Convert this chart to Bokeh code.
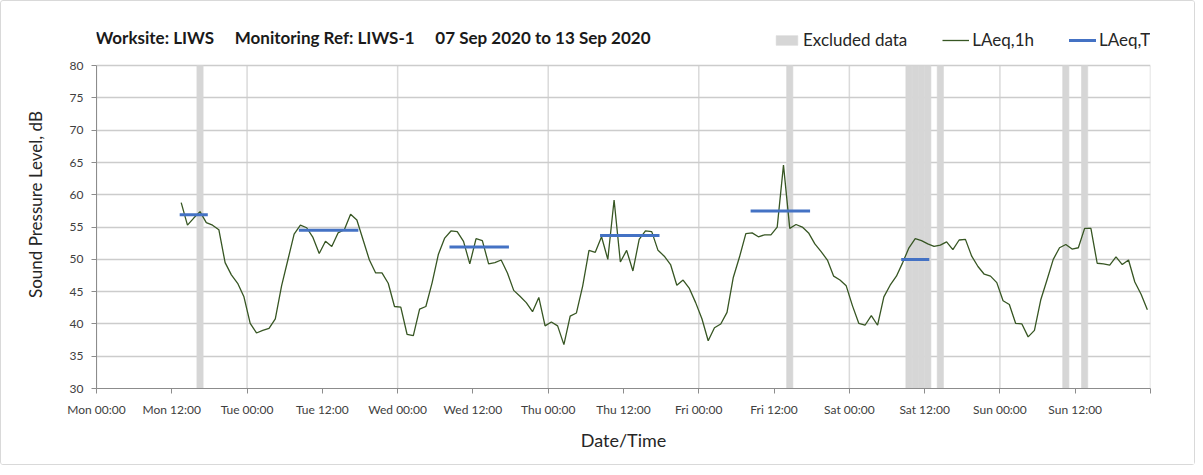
import numpy as np
from bokeh.plotting import figure
from bokeh.models import FixedTicker, Legend, LegendItem, Range1d, Label
from bokeh.embed import file_html
from bokeh.resources import INLINE

# ---------------- data ----------------
days = ["Mon", "Tue", "Wed", "Thu", "Fri", "Sat", "Sun"]
tick_labels = ["Mon 00:00", "Mon 12:00", "Tue 00:00", "Tue 12:00", "Wed 00:00", "Wed 12:00",
               "Thu 00:00", "Thu 12:00", "Fri 00:00", "Fri 12:00", "Sat 00:00", "Sat 12:00",
               "Sun 00:00", "Sun 12:00", ""]

first_hour = 13  # Mon 13:00 is the first hourly value
laeq_1h_mon = [58.8, 55.3, 56.4, 57.4, 55.7, 55.3, 54.6, 49.5, 47.6, 46.3, 44.2]
laeq_1h_tue = [40.1, 38.6, 39.0, 39.3, 40.8, 45.9, 49.9, 53.9, 55.3, 54.9, 53.4, 50.9,
               52.8, 52.0, 54.1, 54.6, 57.0, 56.1, 53.0, 49.9, 47.9, 47.9, 46.3, 42.7]
laeq_1h_wed = [42.6, 38.4, 38.2, 42.3, 42.7, 46.4, 50.8, 53.3, 54.4, 54.3, 52.8, 49.3,
               53.2, 52.9, 49.3, 49.5, 49.9, 47.9, 45.2, 44.3, 43.3, 41.9, 44.1, 39.7]
laeq_1h_thu = [40.3, 39.7, 36.8, 41.2, 41.7, 45.9, 51.4, 51.1, 53.5, 50.0, 59.2, 49.6,
               51.4, 48.2, 53.1, 54.4, 54.3, 51.4, 50.5, 49.2, 46.0, 46.8, 45.5, 43.3]
laeq_1h_fri = [40.8, 37.4, 39.4, 40.0, 41.8, 47.2, 50.4, 54.0, 54.1, 53.5, 53.8, 53.8,
               55.0, 64.6, 54.8, 55.4, 55.0, 54.1, 52.4, 51.2, 49.9, 47.4, 46.8, 45.9]
laeq_1h_sat = [42.8, 40.1, 39.8, 41.3, 39.8, 44.2, 46.0, 47.4, 49.5, 51.8, 53.2, 52.9,
               52.4, 52.0, 52.2, 52.7, 51.5, 53.0, 53.1, 50.5, 48.9, 47.7, 47.4, 46.4]
laeq_1h_sun = [43.6, 43.0, 40.1, 40.0, 38.0, 39.0, 43.7, 46.8, 50.0, 51.8, 52.3, 51.6,
               51.8, 54.8, 54.8, 49.4, 49.3, 49.1, 50.4, 49.2, 49.9, 46.5, 44.6, 42.2]

# excluded hours: (day index, hour)
excluded = [(0, 16), (4, 14), (5, 9), (5, 10), (5, 11), (5, 12), (5, 14), (6, 10), (6, 13)]

# LAeq,T periods: day index, first hour, last hour, level
laeqT_day = [0, 1, 2, 3, 4, 5]
laeqT_start = [13, 8, 8, 8, 8, 8]
laeqT_end = [17, 17, 17, 17, 17, 12]
laeqT_level = [56.9, 54.5, 51.9, 53.7, 57.5, 50.0]

title_parts = ["Worksite: LIWS", "Monitoring Ref: LIWS-1", "07 Sep 2020 to 13 Sep 2020"]

Y_MIN, Y_MAX = 30, 80
X_MAX = 168

# ---------------- build ----------------
FONT = "Lato"
vals = (laeq_1h_mon + laeq_1h_tue + laeq_1h_wed + laeq_1h_thu +
        laeq_1h_fri + laeq_1h_sat + laeq_1h_sun)
hours = first_hour + np.arange(len(vals)) + 0.5

# frame extends above 80 dB to hold the header (title + legend)
p = figure(width=1195, height=465, output_backend="svg", toolbar_location=None,
           x_range=Range1d(0, X_MAX), y_range=Range1d(Y_MIN, 87),
           min_border_left=95, min_border_right=46, min_border_top=19, min_border_bottom=78)

# vertical day grid lines (only over the axis span)
day_lines = list(range(0, X_MAX + 1, 24))
p.segment(x0=day_lines, x1=day_lines, y0=Y_MIN, y1=Y_MAX, line_color="#dadada",
          line_width=1.5, level="underlay")
p.xgrid.grid_line_color = None

ex_x = [d * 24 + h + 0.5 for d, h in excluded]
r_ex = p.vbar(x=ex_x, width=1, top=Y_MAX, bottom=Y_MIN, fill_color="#d6d6d6",
              line_color="#d6d6d6", line_width=0.6)

r_line = p.line(hours, vals, line_color="#375623", line_width=1.3)

x0 = [d * 24 + s + 0.5 for d, s in zip(laeqT_day, laeqT_start)]
x1 = [d * 24 + e + 0.5 for d, e in zip(laeqT_day, laeqT_end)]
r_T = p.segment(x0=x0, y0=laeqT_level, x1=x1, y1=laeqT_level, line_color="#4472c4",
                line_width=3, line_cap="square")

# axes
p.xaxis.ticker = FixedTicker(ticks=list(range(0, X_MAX + 1, 12)))
p.xaxis.major_label_overrides = {i * 12: lab for i, lab in enumerate(tick_labels)}
p.yaxis.ticker = FixedTicker(ticks=list(range(Y_MIN, Y_MAX + 1, 5)))
p.yaxis.bounds = (Y_MIN, Y_MAX)

for ax in (p.xaxis, p.yaxis):
    ax.axis_line_color = "#8c8c8c"
    ax.major_tick_line_color = "#8c8c8c"
    ax.major_tick_in = 0
    ax.major_tick_out = 5
    ax.minor_tick_line_color = None
    ax.major_label_text_font = FONT
    ax.major_label_text_font_size = "12px"
    ax.major_label_text_color = "#404040"
    ax.axis_label_text_font = FONT
    ax.axis_label_text_font_style = "normal"
    ax.axis_label_text_color = "#262626"

p.xaxis.axis_label = "Date/Time"
p.xaxis.axis_label_text_font_size = "18px"
p.xaxis.major_label_standoff = 8
p.xaxis.axis_label_standoff = 9
p.yaxis.axis_label = "Sound Pressure Level, dB"
p.yaxis.axis_label_text_font_size = "17px"
p.yaxis.major_label_standoff = 8
p.yaxis.axis_label_standoff = 21

p.ygrid.grid_line_color = "#cccccc"
p.ygrid.grid_line_width = 1.5
p.outline_line_color = None

# title
p.add_layout(Label(x=0, y=84.4, text=("\u00a0" * 5).join(title_parts),
                   text_font=FONT, text_font_size="17px", text_font_style="bold",
                   text_color="#1a1a1a", text_baseline="middle", x_offset=-1))

legend = Legend(items=[LegendItem(label="Excluded data", renderers=[r_ex]),
                       LegendItem(label="LAeq,1h", renderers=[r_line]),
                       LegendItem(label="LAeq,T", renderers=[r_T])],
                orientation="horizontal", location=(677, 338),
                glyph_width=27, glyph_height=12, label_height=16, label_standoff=3,
                spacing=35, padding=0, margin=0,
                label_text_font=FONT, label_text_font_size="17px", label_text_color="#262626",
                border_line_color=None, background_fill_alpha=0)
p.add_layout(legend)

p.styles = {"border": "1px solid #d9d9d9", "border-radius": "3px"}

open("out.html", "w").write(file_html(p, INLINE))
